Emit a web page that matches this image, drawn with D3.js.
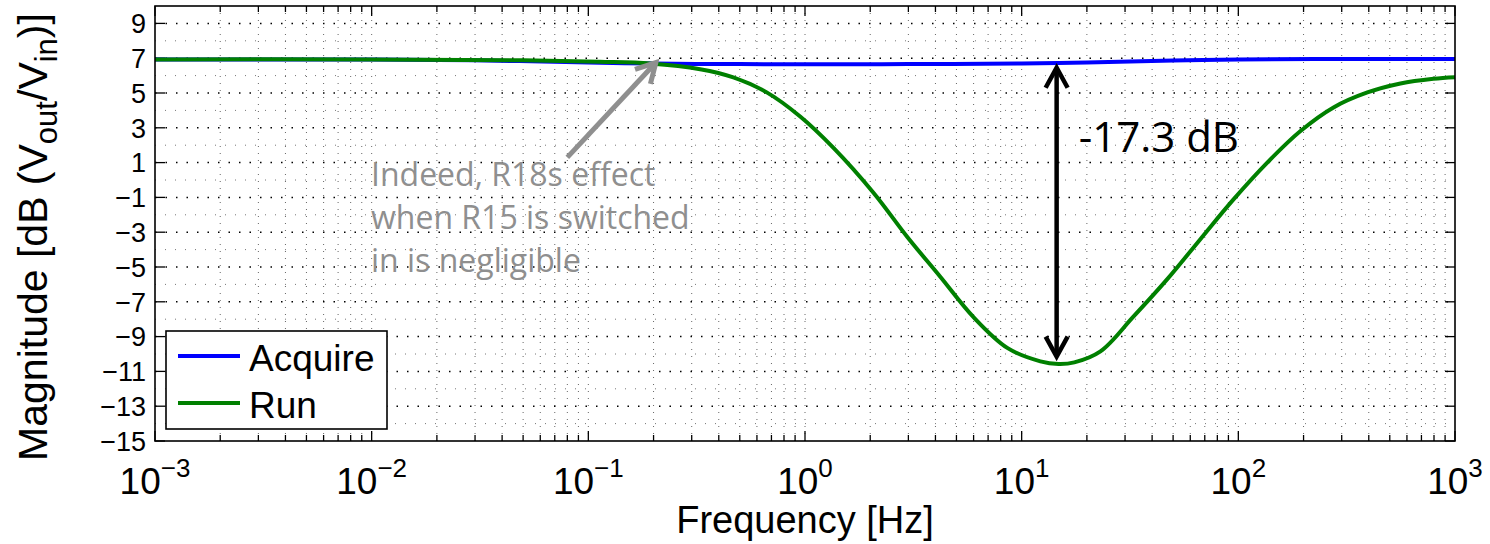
<!DOCTYPE html>
<html>
<head>
<meta charset="utf-8">
<script src="https://cdn.jsdelivr.net/npm/d3@7"></script>
<style>
  body { margin: 0; background: #fff; }
  svg { display: block; }
  text { font-family: "Liberation Sans", Arial, sans-serif; }
</style>
</head>
<body>
<div id="chart"></div>
<script>
var width = 1490,
    height = 544;

// Acquire (blue) response
var acqFreq = [0.001, 0.01, 0.03, 0.1, 0.2, 0.5, 1, 3, 10, 20, 50, 100, 300, 1000];
var acqMag  = [6.93, 6.92, 6.88, 6.75, 6.69, 6.66, 6.65, 6.66, 6.70, 6.76, 6.87, 6.93, 6.95, 6.95];

// Run (green) response
var runFreq = [0.001, 0.01, 0.05, 0.113, 0.193, 0.328, 0.467, 0.663, 0.95, 1.35, 2.07, 2.96, 4.21,
               5.98, 8.58, 12.2, 14.8, 17.5, 23.1, 32.7, 47.0, 66.8, 94.8, 136, 193, 275, 394, 560, 795, 1000];
var runMag  = [6.93, 6.93, 6.88, 6.80, 6.70, 6.37, 5.90, 5.05, 3.65, 1.86, -0.73, -3.26, -5.56,
               -7.87, -9.65, -10.42, -10.57, -10.48, -9.85, -7.87, -5.70, -3.40, -1.13, 1.00, 2.80, 4.17, 5.03, 5.55, 5.82, 5.91];

var seriesNames = ["Acquire", "Run"];
var seriesColors = ["#0000ff", "#008000"];

var yTicks = [-15, -13, -11, -9, -7, -5, -3, -1, 1, 3, 5, 7, 9];
var yMinor = [-14, -12, -10, -8, -6, -4, -2, 0, 2, 4, 6, 8];
var xDecades = [-3, -2, -1, 0, 1, 2, 3];

var noteLines = ["Indeed, R18s effect", "when R15 is switched", "in is negligible"];
var dropLabel = "-17.3 dB";

var margin = {top: 6, right: 35, bottom: 103, left: 155};

var svg = d3.select("#chart")
    .append("svg")
    .attr("width", width)
    .attr("height", height);

var x = d3.scaleLog()
    .domain([1e-3, 1e3])
    .range([margin.left, width - margin.right]);

var y = d3.scaleLinear()
    .domain([-15, 10])
    .range([height - margin.bottom, margin.top]);

var x0 = x.range()[0], x1 = x.range()[1],
    y0 = y.range()[0], y1 = y.range()[1];

// minor x positions (2..9 within each decade)
var xMinor = [];
for (var d = -3; d < 3; d++) {
    for (var m = 2; m <= 9; m++) xMinor.push(m * Math.pow(10, d));
}

// grid
var grid = svg.append("g");

grid.selectAll("line.vx")
    .data(xMinor.concat(xDecades.slice(1, -1).map(function (e) { return Math.pow(10, e); })))
    .enter().append("line")
    .attr("x1", function (d) { return x(d); })
    .attr("x2", function (d) { return x(d); })
    .attr("y1", y0).attr("y2", y1)
    .attr("stroke", "#666")
    .attr("stroke-width", 1)
    .attr("stroke-dasharray", "1,6");

grid.selectAll("line.hmin")
    .data(yMinor)
    .enter().append("line")
    .attr("x1", x0).attr("x2", x1)
    .attr("y1", function (d) { return y(d); })
    .attr("y2", function (d) { return y(d); })
    .attr("stroke", "#777")
    .attr("stroke-width", 1)
    .attr("stroke-dasharray", "1,9");

grid.selectAll("line.hmaj")
    .data(yTicks.slice(1))
    .enter().append("line")
    .attr("x1", x0).attr("x2", x1)
    .attr("y1", function (d) { return y(d); })
    .attr("y2", function (d) { return y(d); })
    .attr("stroke", "#000")
    .attr("stroke-width", 1.5)
    .attr("stroke-dasharray", "1.5,9");

// ticks (inside, mirrored)
var ticks = svg.append("g").attr("stroke", "#000").attr("stroke-width", 1.3);

xMinor.forEach(function (f) {
    ticks.append("line").attr("x1", x(f)).attr("x2", x(f)).attr("y1", y0).attr("y2", y0 - 6);
    ticks.append("line").attr("x1", x(f)).attr("x2", x(f)).attr("y1", y1).attr("y2", y1 + 6);
});
xDecades.forEach(function (e) {
    var f = Math.pow(10, e);
    ticks.append("line").attr("x1", x(f)).attr("x2", x(f)).attr("y1", y0).attr("y2", y0 - 10);
    ticks.append("line").attr("x1", x(f)).attr("x2", x(f)).attr("y1", y1).attr("y2", y1 + 10);
});
yTicks.forEach(function (v) {
    ticks.append("line").attr("x1", x0).attr("x2", x0 + 10).attr("y1", y(v)).attr("y2", y(v));
    ticks.append("line").attr("x1", x1).attr("x2", x1 - 10).attr("y1", y(v)).attr("y2", y(v));
});

// curves
var line = d3.line()
    .x(function (d) { return x(d[0]); })
    .y(function (d) { return y(d[1]); })
    .curve(d3.curveCatmullRom.alpha(0.5));

var series = [
    d3.zip(acqFreq, acqMag),
    d3.zip(runFreq, runMag)
];

svg.selectAll("path.series")
    .data(series)
    .enter().append("path")
    .attr("class", "series")
    .attr("d", line)
    .attr("fill", "none")
    .attr("stroke", function (d, i) { return seriesColors[i]; })
    .attr("stroke-width", 4)
    .attr("stroke-linejoin", "round");

// box
svg.append("rect")
    .attr("x", x0).attr("y", y1)
    .attr("width", x1 - x0).attr("height", y0 - y1)
    .attr("fill", "none")
    .attr("stroke", "#000")
    .attr("stroke-width", 1.6);

// y tick labels
svg.append("g").selectAll("text")
    .data(yTicks)
    .enter().append("text")
    .attr("x", x0 - 9)
    .attr("y", function (d) { return y(d); })
    .attr("dy", "0.36em")
    .attr("text-anchor", "end")
    .style("font-size", "27px")
    .text(function (d) { return d < 0 ? "\u2212" + Math.abs(d) : d; });

// x tick labels: 10^e
var xl = svg.append("g").selectAll("text")
    .data(xDecades)
    .enter().append("text")
    .attr("x", function (d) { return x(Math.pow(10, d)); })
    .attr("y", 494)
    .attr("text-anchor", "middle")
    .style("font-size", "37px");
xl.append("tspan").text("10");
xl.append("tspan")
    .attr("dy", -17)
    .style("font-size", "26px")
    .text(function (d) { return d < 0 ? "\u2212" + Math.abs(d) : d; });

// axis titles
svg.append("text")
    .attr("x", (x0 + x1) / 2)
    .attr("y", 533)
    .attr("text-anchor", "middle")
    .style("font-size", "38px")
    .text("Frequency [Hz]");

var yt = svg.append("text")
    .attr("transform", "translate(47," + 237 + ") rotate(-90)")
    .attr("text-anchor", "middle")
    .style("font-size", "41px");
yt.append("tspan").text("Magnitude [dB (V");
yt.append("tspan").attr("dy", 10).style("font-size", "31px").text("out");
yt.append("tspan").attr("dy", -10).text("/V");
yt.append("tspan").attr("dy", 10).style("font-size", "31px").text("in");
yt.append("tspan").attr("dy", -10).text(")]");

// legend
var legend = svg.append("g");
legend.append("rect")
    .attr("x", 166).attr("y", 331)
    .attr("width", 221).attr("height", 98)
    .attr("fill", "#fff")
    .attr("stroke", "#000")
    .attr("stroke-width", 1.6);
seriesNames.forEach(function (name, i) {
    var ly = 356 + i * 47;
    legend.append("line")
        .attr("x1", 178).attr("x2", 240)
        .attr("y1", ly).attr("y2", ly)
        .attr("stroke", seriesColors[i])
        .attr("stroke-width", 4);
    legend.append("text")
        .attr("x", 249).attr("y", ly + 15)
        .style("font-size", "37px")
        .text(name);
});

// annotation: grey arrow + note
var grey = "#8f8f8f";
var noteTip = [0.205, 6.75], noteTail = [0.08, 1.3];
var ann = svg.append("g").attr("stroke", grey).attr("stroke-width", 5).attr("fill", "none")
    .attr("stroke-linecap", "butt");
var tx = x(noteTip[0]), ty = y(noteTip[1]);
var sx = x(noteTail[0]), sy = y(noteTail[1]);
var ang = Math.atan2(ty - sy, tx - sx);
ann.append("line").attr("x1", sx).attr("y1", sy).attr("x2", tx - 2 * Math.cos(ang)).attr("y2", ty - 2 * Math.sin(ang));
ann.append("path")
    .attr("stroke-linejoin", "miter")
    .attr("d", "M" + (tx - 22 * Math.cos(ang - 0.5)) + "," + (ty - 22 * Math.sin(ang - 0.5)) +
        "L" + tx + "," + ty +
        "L" + (tx - 22 * Math.cos(ang + 0.5)) + "," + (ty - 22 * Math.sin(ang + 0.5)));

svg.append("g").selectAll("text")
    .data(noteLines)
    .enter().append("text")
    .attr("x", 371)
    .attr("y", function (d, i) { return 186 + i * 43; })
    .attr("fill", grey)
    .style("font-family", "'Open Sans', Lato, sans-serif")
    .style("font-size", "32px")
    .text(function (d) { return d; });

// annotation: black double arrow at the notch
var notchF = 14.5;
var ax = x(notchF), aTop = y(6.45), aBot = y(-10.15);
var blk = svg.append("g").attr("stroke", "#000").attr("stroke-width", 4.5).attr("fill", "none");
blk.append("line").attr("x1", ax).attr("x2", ax).attr("y1", aTop + 2).attr("y2", aBot - 2);
blk.append("path").attr("d", "M" + (ax - 11) + "," + (aTop + 20) + "L" + ax + "," + aTop + "L" + (ax + 11) + "," + (aTop + 20));
blk.append("path").attr("d", "M" + (ax - 11) + "," + (aBot - 20) + "L" + ax + "," + aBot + "L" + (ax + 11) + "," + (aBot - 20));

svg.append("text")
    .attr("x", ax + 22)
    .attr("y", 152)
    .style("font-family", "'Open Sans', Lato, sans-serif")
    .style("font-size", "42px")
    .text(dropLabel);
</script>
</body>
</html>
